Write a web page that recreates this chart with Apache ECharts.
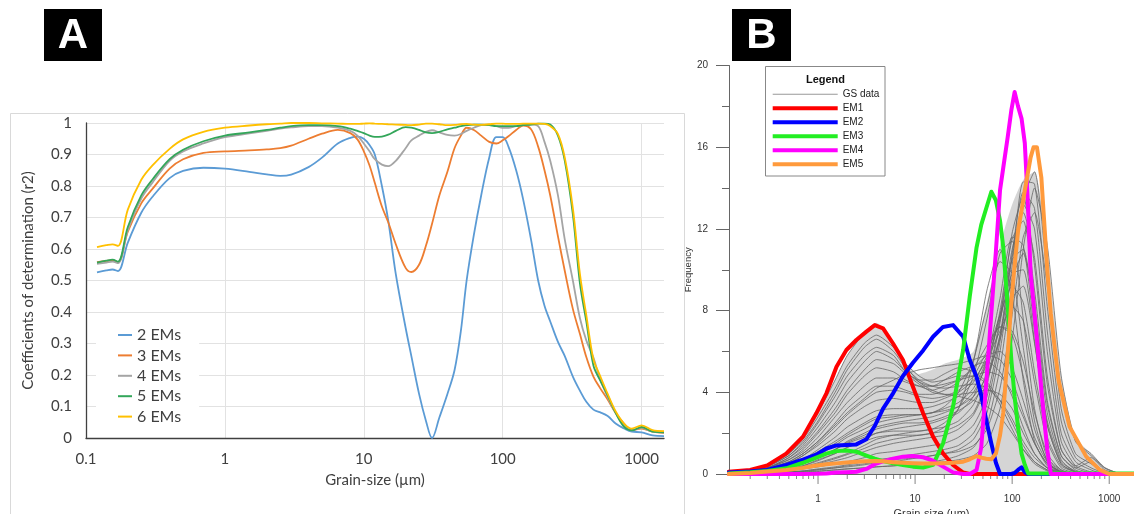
<!DOCTYPE html>
<html>
<head>
<meta charset="utf-8">
<title>EMMA</title>
<script src="https://cdn.jsdelivr.net/npm/echarts@6/dist/echarts.min.js"></script>
<style>
html, body { margin: 0; padding: 0; background: #fff; }
#main { width: 1134px; height: 514px; }
</style>
</head>
<body>
<div id="main"></div>
<script>
// ===== A: r2 vs grain size =====
let sizeA = [0.12, 0.14, 0.155, 0.17, 0.2, 0.25, 0.3, 0.4, 0.5, 0.7,
    1, 1.5, 2, 2.5, 3, 4, 5, 6.5, 8, 9,
    10, 11, 12, 13.5, 15, 17, 20, 22, 25, 28,
    31, 35, 40, 45, 50, 55, 62, 70, 80, 90,
    100, 110, 125, 140, 160, 180, 200, 220, 250, 280,
    320, 360, 400, 450, 500, 570, 650, 750, 850, 1000,
    1200, 1450]
let r2_2 = [0.526, 0.532, 0.535, 0.53, 0.62, 0.715, 0.765, 0.825, 0.848, 0.858,
    0.855, 0.845, 0.837, 0.832, 0.836, 0.86, 0.89, 0.935, 0.953, 0.957,
    0.95, 0.93, 0.9, 0.8, 0.69, 0.52, 0.35, 0.26, 0.14, 0.055,
    0.0, 0.065, 0.14, 0.215, 0.34, 0.5, 0.645, 0.77, 0.89, 0.955,
    0.955, 0.925, 0.85, 0.76, 0.63, 0.5, 0.42, 0.37, 0.305, 0.26,
    0.195, 0.15, 0.115, 0.09, 0.082, 0.07, 0.046, 0.03, 0.02, 0.018,
    0.008, 0.006]
let r2_3 = [0.558, 0.562, 0.564, 0.558, 0.655, 0.745, 0.79, 0.855, 0.885, 0.905,
    0.91, 0.913, 0.916, 0.92, 0.928, 0.95, 0.966, 0.978, 0.968, 0.948,
    0.91, 0.865, 0.81, 0.735, 0.685, 0.615, 0.54, 0.527, 0.55, 0.61,
    0.68, 0.77, 0.845, 0.92, 0.96, 0.985, 0.978, 0.96, 0.94, 0.935,
    0.945, 0.958, 0.978, 0.992, 0.98, 0.925, 0.85, 0.77, 0.64, 0.53,
    0.41, 0.33, 0.257, 0.195, 0.16, 0.122, 0.08, 0.045, 0.025, 0.03,
    0.02, 0.016]
let r2_4 = [0.553, 0.557, 0.56, 0.555, 0.66, 0.76, 0.81, 0.88, 0.91, 0.935,
    0.955, 0.967, 0.975, 0.982, 0.986, 0.99, 0.99, 0.985, 0.975, 0.96,
    0.935, 0.91, 0.885, 0.868, 0.863, 0.88, 0.92, 0.945, 0.96, 0.972,
    0.977, 0.97, 0.962, 0.96, 0.965, 0.975, 0.985, 0.993, 0.995, 0.99,
    0.985, 0.985, 0.99, 0.993, 0.995, 0.99, 0.94, 0.88, 0.77, 0.63,
    0.5, 0.38, 0.31, 0.255, 0.19, 0.13, 0.08, 0.04, 0.024, 0.032,
    0.02, 0.018]
let r2_5 = [0.557, 0.563, 0.566, 0.56, 0.67, 0.77, 0.82, 0.885, 0.915, 0.942,
    0.96, 0.97, 0.978, 0.985, 0.99, 0.993, 0.993, 0.99, 0.982, 0.975,
    0.968, 0.96, 0.956, 0.957, 0.963, 0.975, 0.987, 0.985, 0.978, 0.97,
    0.968, 0.972, 0.98, 0.985, 0.99, 0.993, 0.995, 0.995, 0.993, 0.99,
    0.99, 0.99, 0.99, 0.993, 0.995, 0.998, 0.998, 0.995, 0.96, 0.88,
    0.71, 0.49, 0.37, 0.23, 0.185, 0.135, 0.08, 0.035, 0.024, 0.035,
    0.02, 0.018]
let r2_6 = [0.606, 0.612, 0.615, 0.61, 0.725, 0.82, 0.865, 0.918, 0.948, 0.972,
    0.985, 0.992, 0.996, 0.998, 1.0, 1.0, 0.999, 0.998, 0.997, 0.997,
    0.998, 0.999, 0.998, 0.997, 0.996, 0.995, 0.994, 0.993, 0.995, 0.998,
    0.998, 0.996, 0.993, 0.994, 0.996, 0.997, 0.995, 0.994, 0.996, 0.998,
    0.998, 0.997, 0.997, 0.998, 0.998, 0.998, 0.997, 0.99, 0.965, 0.89,
    0.73, 0.52, 0.39, 0.25, 0.2, 0.14, 0.085, 0.045, 0.03, 0.04,
    0.025, 0.022]
let namesA = ['2 EMs', '3 EMs', '4 EMs', '5 EMs', '6 EMs']
let colorsA = ['#5B9BD5', '#ED7D31', '#A5A5A5', '#33A65A', '#FFC000']

// ===== B: GS data + end members =====
let sizeGS = [0.12, 0.2, 0.3, 0.5, 0.7, 1, 1.5, 2, 3, 4, 6, 8, 11, 15, 20, 28, 40, 55, 75, 100, 130, 170, 230, 320, 450, 650, 900, 1300]
// 样品曲线的上包络
let gsUpper = [0.1, 0.2, 0.4, 1.0, 1.8, 3.0, 4.6, 5.8, 6.9, 7.4, 6.4, 5.4, 4.9, 5.1, 5.4, 5.6, 6.0, 8.4, 11.2, 13.2, 14.4, 14.8, 11.0, 4.8, 1.8, 1.0, 0.35, 0]
let gsCurves = [
    [0.1,0.2,0.4,1.0,1.8,3.0,4.6,5.8,6.9,7.3,6.4,5.3,4.5,4.1,3.9,3.8,3.6,3.3,2.8,2.0,1.2,0.6,0.2,0.05,0,0,0,0],
    [0.1,0.2,0.4,0.9,1.6,2.6,4.0,5.1,6.2,6.6,6.0,5.2,4.6,4.3,4.2,4.3,4.4,4.2,3.6,2.7,1.6,0.8,0.3,0.1,0,0,0,0],
    [0.1,0.2,0.3,0.8,1.4,2.3,3.5,4.5,5.5,6.0,5.6,5.0,4.5,4.3,4.4,4.6,4.8,5.0,4.8,4.0,2.8,1.5,0.5,0.1,0,0,0,0],
    [0.1,0.15,0.3,0.7,1.2,2.0,3.0,3.9,4.8,5.2,5.0,4.6,4.3,4.1,4.3,4.6,5.2,5.8,6.0,5.2,3.6,1.8,0.6,0.1,0,0,0,0],
    [0.1,0.15,0.25,0.6,1.0,1.6,2.5,3.2,3.9,4.3,4.3,4.1,3.9,3.9,4.1,4.5,5.2,6.3,7.2,7.0,5.5,3.0,1.0,0.2,0,0,0,0],
    [0.05,0.1,0.2,0.5,0.9,1.4,2.1,2.7,3.3,3.6,3.7,3.6,3.5,3.5,3.7,4.0,4.6,5.6,7.0,8.2,7.5,4.5,1.6,0.3,0.05,0,0,0],
    [0.05,0.1,0.2,0.4,0.7,1.2,1.8,2.3,2.8,3.1,3.2,3.2,3.2,3.3,3.5,3.8,4.5,5.8,7.8,9.2,8.4,5.0,1.8,0.4,0.1,0,0,0],
    [0.05,0.1,0.15,0.4,0.6,1.0,1.5,1.9,2.4,2.7,2.8,2.9,2.9,3.0,3.2,3.5,4.2,5.6,7.6,9.8,10.0,6.5,2.4,0.5,0.1,0,0,0],
    [0.05,0.1,0.15,0.3,0.5,0.8,1.2,1.6,2.0,2.3,2.5,2.6,2.7,2.8,3.0,3.3,4.0,5.4,7.8,10.5,11.0,7.8,3.0,0.7,0.1,0,0,0],
    [0.05,0.08,0.1,0.25,0.4,0.7,1.0,1.3,1.7,2.0,2.2,2.3,2.4,2.5,2.7,3.0,3.8,5.6,8.6,11.6,11.2,7.0,2.4,0.5,0.1,0,0,0],
    [0.03,0.05,0.1,0.2,0.35,0.55,0.8,1.0,1.4,1.7,1.9,2.0,2.1,2.2,2.3,2.6,3.4,5.0,8.0,11.5,12.4,9.0,3.6,0.9,0.2,0,0,0],
    [0.03,0.05,0.1,0.2,0.3,0.45,0.65,0.8,1.1,1.3,1.5,1.6,1.7,1.8,1.9,2.2,2.9,4.4,7.4,11.0,12.8,10.6,4.8,1.2,0.3,0.05,0,0],
    [0.02,0.04,0.08,0.15,0.25,0.35,0.5,0.6,0.8,1.0,1.1,1.2,1.3,1.4,1.5,1.8,2.4,3.8,6.8,10.6,13.2,12.0,6.0,1.6,0.4,0.1,0,0],
    [0.02,0.03,0.05,0.1,0.15,0.25,0.35,0.45,0.6,0.7,0.8,0.9,1.0,1.1,1.2,1.4,2.0,3.4,6.5,10.8,13.8,13.0,7.0,2.0,0.6,0.2,0,0],
    [0.01,0.02,0.04,0.08,0.12,0.2,0.3,0.35,0.45,0.55,0.6,0.7,0.8,0.9,1.0,1.2,1.7,3.0,6.0,10.2,14.3,14.2,8.2,2.6,0.8,0.3,0.05,0],
    [0.01,0.02,0.03,0.05,0.08,0.12,0.2,0.25,0.3,0.35,0.4,0.45,0.5,0.6,0.7,0.9,1.3,2.4,5.2,9.4,13.5,14.8,9.6,3.2,1.0,0.5,0.1,0],
    [0.1,0.15,0.3,0.6,1.0,1.6,2.4,3.0,3.7,4.2,4.6,4.9,5.1,5.2,5.3,5.4,5.6,5.8,5.6,4.6,3.0,1.5,0.5,0.1,0,0,0,0],
    [0.05,0.1,0.2,0.4,0.7,1.1,1.6,2.0,2.5,2.8,2.9,2.9,2.9,3.0,3.3,4.0,5.6,8.2,10.4,9.8,6.2,2.6,0.6,0.1,0,0,0,0],
    [0.05,0.08,0.15,0.3,0.5,0.8,1.2,1.5,1.8,2.0,2.1,2.1,2.1,2.2,2.5,3.2,4.8,7.6,10.8,11.4,7.6,3.2,0.8,0.2,0,0,0,0],
    [0.02,0.03,0.05,0.1,0.15,0.22,0.3,0.4,0.5,0.6,0.7,0.75,0.8,0.9,1.0,1.1,1.4,2.2,4.2,7.8,11.6,12.8,9.2,4.2,1.6,0.9,0.3,0],
    [0.1,0.2,0.4,1.0,1.7,2.8,4.2,5.3,6.4,6.8,6.2,5.4,4.8,4.5,4.6,4.8,4.8,4.4,3.4,2.2,1.2,0.5,0.15,0,0,0,0,0],
    [0.08,0.15,0.3,0.7,1.1,1.8,2.8,3.5,4.3,4.7,4.7,4.5,4.3,4.3,4.6,5.0,5.3,5.5,5.0,3.8,2.3,1.0,0.3,0.05,0,0,0,0],
    [0.08,0.15,0.3,0.8,1.3,2.1,3.2,4.1,5.1,5.6,5.4,4.9,4.4,4.0,3.9,3.9,4.0,4.1,3.9,3.2,2.0,1.0,0.3,0.05,0,0,0,0],
    [0.04,0.08,0.15,0.35,0.55,0.9,1.4,1.8,2.2,2.5,2.7,2.8,2.9,3.0,3.1,3.3,3.8,4.8,6.6,8.6,9.2,6.4,2.6,0.6,0.15,0,0,0],
    [0.02,0.04,0.08,0.18,0.3,0.5,0.75,0.95,1.25,1.5,1.7,1.8,1.9,2.0,2.1,2.4,3.0,4.6,7.6,11.8,13.6,10.2,4.4,1.2,0.4,0.8,0.2,0],
    [0.06,0.12,0.25,0.55,0.9,1.5,2.3,2.9,3.6,4.0,4.1,4.0,3.8,3.7,3.8,4.1,4.8,6.0,7.2,6.8,4.8,2.2,0.7,0.15,0,0,0,0],
    [0.03,0.05,0.1,0.25,0.4,0.65,1.0,1.3,1.6,1.8,1.9,1.9,1.9,2.0,2.3,3.2,5.5,9.0,11.0,8.8,4.6,1.6,0.4,0.1,0,0,0,0],
    [0.01,0.02,0.03,0.06,0.1,0.15,0.2,0.25,0.3,0.35,0.4,0.45,0.5,0.55,0.6,0.7,0.9,1.5,3.2,6.6,11.0,14.0,11.2,4.8,1.6,1.0,0.3,0],
    [0.1,0.18,0.35,0.9,1.5,2.5,3.8,4.8,5.8,6.2,5.8,5.0,4.6,4.6,4.9,5.2,5.0,4.5,3.6,2.5,1.4,0.6,0.2,0,0,0,0,0],
    [0.04,0.07,0.12,0.3,0.5,0.8,1.2,1.55,1.9,2.2,2.4,2.5,2.5,2.6,2.8,3.1,3.6,4.6,6.8,9.6,10.8,8.2,3.4,0.9,0.3,0.6,0.1,0]
]
let sizeEM = [0.12, 0.2, 0.3, 0.47, 0.7, 0.96, 1.22, 1.55, 1.96, 2.48,
    3.15, 3.84, 4.68, 5.93, 7.5, 9.5, 12.1, 15.3, 19.4, 24.6,
    31.3, 36.6, 43, 48, 54, 61, 68, 75, 81, 90,
    98, 106, 115, 125, 135, 146, 155, 166, 180, 200,
    230, 250, 300, 390, 580, 800, 1000, 1800]
let em1 = [0.11, 0.2, 0.42, 1.0, 1.83, 2.97, 3.95, 5.25, 6.07, 6.56,
    6.97, 7.29, 7.13, 6.39, 5.58, 4.27, 2.97, 1.83, 1.01, 0.44,
    0.07, 0, 0, 0, 0, 0, 0, 0, 0, 0,
    0, 0, 0, 0, 0, 0, 0, 0, 0, 0,
    0, 0, 0, 0, 0, 0, 0, 0]
let em2 = [0.07, 0.12, 0.2, 0.44, 0.7, 0.95, 1.25, 1.4, 1.42, 1.45,
    1.7, 2.35, 3.2, 3.95, 4.8, 5.45, 6.05, 6.72, 7.2, 7.29,
    6.72, 5.58, 4.75, 3.85, 2.65, 1.5, 0.55, 0, 0, 0,
    0, 0.05, 0.2, 0.33, 0.1, 0, 0, 0, 0, 0,
    0, 0, 0, 0, 0, 0, 0, 0]
let em3 = [0.03, 0.08, 0.15, 0.28, 0.55, 0.8, 1.0, 1.12, 1.15, 1.09,
    0.9, 0.75, 0.63, 0.52, 0.44, 0.36, 0.32, 0.45, 1.5, 3.3,
    6.1, 8.7, 11.1, 12.2, 13.0, 13.82, 13.4, 12.4, 11.1, 8.2,
    5.6, 3.78, 2.3, 1.0, 0.45, 0.03, 0.03, 0.03, 0.03, 0.03,
    0.03, 0.03, 0.03, 0.02, 0.02, 0.02, 0.02, 0.02]
let em4 = [0, 0, 0, 0, 0, 0.01, 0.03, 0.07, 0.09, 0.11,
    0.25, 0.48, 0.62, 0.75, 0.85, 0.88, 0.82, 0.65, 0.36, 0.08,
    0, 0, 0.2, 1.3, 4.4, 7.86, 10.9, 13.9, 15.0, 16.5,
    17.8, 18.7, 18.0, 17.4, 16.2, 13.0, 9.8, 8.4, 6.6, 4.1,
    1.2, 0, 0, 0, 0, 0, 0, 0]
let em5 = [0, 0.05, 0.12, 0.2, 0.3, 0.42, 0.48, 0.52, 0.56, 0.6,
    0.63, 0.64, 0.62, 0.58, 0.55, 0.53, 0.52, 0.52, 0.53, 0.55,
    0.6, 0.72, 0.88, 0.8, 0.75, 0.72, 1.0, 1.9, 3.0, 5.9,
    8.4, 10.2, 11.9, 12.9, 13.9, 14.8, 15.5, 16.0, 16.0, 14.5,
    10.0, 7.86, 4.6, 2.32, 0.85, 0.2, 0, 0]
let namesEM = ['EM1', 'EM2', 'EM3', 'EM4', 'EM5']
let colorsEM = ['#ff0000', '#0000ff', '#22ee22', '#ff00ff', '#ff9a3c']
// 对数轴刻度 (主/次)
let majorTicksB = [1, 10, 100, 1000]
let minorTicksB = [0.2, 0.3, 0.4, 0.5, 0.6, 0.7, 0.8, 0.9,
    2, 3, 4, 5, 6, 7, 8, 9,
    20, 30, 40, 50, 60, 70, 80, 90,
    200, 300, 400, 500, 600, 700, 800, 900]

function pairs (xs, ys) {
    return xs.map(function (x, i) { return [x, ys[i]] })
}
function decadeLabel (v) {
    let l = Math.log10(v)
    if (Math.abs(l - Math.round(l)) < 1e-6) {
        return String(+Math.pow(10, Math.round(l)).toPrecision(6))
    }
    return ''
}

let chart = echarts.init(document.getElementById('main'))
let series = []

// A 曲线
let yA = [r2_2, r2_3, r2_4, r2_5, r2_6]
for (let i = 0; i < yA.length; i++) {
    series.push({
        name: namesA[i],
        type: 'line',
        xAxisIndex: 0,
        yAxisIndex: 0,
        data: pairs(sizeA, yA[i]),
        smooth: 0.35,
        symbol: 'none',
        color: colorsA[i],
        lineStyle: { color: colorsA[i], width: 1.8 },
        z: 3
    })
}

// B 灰色底 (包络)
series.push({
    name: 'GS envelope',
    type: 'line',
    xAxisIndex: 1,
    yAxisIndex: 1,
    data: pairs(sizeGS, gsUpper),
    smooth: 0.2,
    symbol: 'none',
    silent: true,
    lineStyle: { width: 0 },
    areaStyle: { color: 'rgba(135,135,135,0.5)' },
    z: 1
})

// B 灰色样品曲线
for (let i = 0; i < gsCurves.length; i++) {
    series.push({
        name: 'GS data',
        type: 'line',
        xAxisIndex: 1,
        yAxisIndex: 1,
        data: pairs(sizeGS, gsCurves[i]),
        smooth: 0.2,
        symbol: 'none',
        silent: true,
        color: '#999999',
        lineStyle: { color: '#666666', width: 1, opacity: 0.8 },
        z: 2
    })
}

// B 端元
let yEM = [em1, em2, em3, em4, em5]
for (let i = 0; i < yEM.length; i++) {
    series.push({
        name: namesEM[i],
        type: 'line',
        xAxisIndex: 1,
        yAxisIndex: 1,
        data: pairs(sizeEM, yEM[i]),
        symbol: 'none',
        clip: false,
        color: colorsEM[i],
        lineStyle: { color: colorsEM[i], width: 4, join: 'round', cap: 'round' },
        z: 4 + i
    })
}

// B x轴刻度
series.push({
    name: 'majorTick', type: 'scatter', xAxisIndex: 1, yAxisIndex: 1,
    data: majorTicksB.map(function (v) { return [v, 0] }),
    symbol: 'rect', symbolSize: [1, 10], symbolOffset: [0, 5],
    itemStyle: { color: '#666' }, clip: false, silent: true, z: 1
})
series.push({
    name: 'minorTick', type: 'scatter', xAxisIndex: 1, yAxisIndex: 1,
    data: minorTicksB.map(function (v) { return [v, 0] }),
    symbol: 'rect', symbolSize: [1, 5], symbolOffset: [0, 2.5],
    itemStyle: { color: '#666' }, clip: false, silent: true, z: 1
})

let fontA = 'Lato'
let fontB = 'Liberation Sans'
let option = {
    animation: false,
    backgroundColor: '#fff',
    grid: [
        { left: 86, top: 123, width: 578, height: 315, outerBoundsMode: 'none' },
        { left: 729, top: 65.5, width: 405, height: 408.5, outerBoundsMode: 'none' }
    ],
    xAxis: [
        {
            type: 'log', gridIndex: 0, logBase: 10, min: 0.1, max: 1450,
            name: 'Grain-size (µm)', nameLocation: 'middle', nameGap: 35,
            nameTextStyle: { fontFamily: fontA, fontSize: 15, color: '#404040' },
            axisLine: { show: true, lineStyle: { color: '#404040', width: 1.3 } },
            axisTick: { show: false },
            axisLabel: { fontFamily: fontA, fontSize: 15, color: '#404040', margin: 14, formatter: decadeLabel },
            splitLine: { show: true, showMaxLine: false, lineStyle: { color: '#e2e2e2', width: 1 } }
        },
        {
            type: 'log', gridIndex: 1, logBase: 10, min: 0.121, max: 1800,
            name: 'Grain-size (µm)', nameLocation: 'middle', nameGap: 31,
            nameTextStyle: { fontFamily: fontB, fontSize: 11, color: '#333' },
            axisLine: { show: true, lineStyle: { color: '#666', width: 1 } },
            axisTick: { show: false },
            axisLabel: { fontFamily: fontB, fontSize: 10, color: '#333', margin: 20, formatter: decadeLabel },
            splitLine: { show: false }
        }
    ],
    yAxis: [
        {
            type: 'value', gridIndex: 0, min: 0, max: 1, interval: 0.1,
            name: 'Coefficients of determination (r2)', nameLocation: 'middle', nameRotate: 90, nameGap: 50,
            nameTextStyle: { fontFamily: fontA, fontSize: 15, color: '#404040' },
            axisLine: { show: true, lineStyle: { color: '#404040', width: 1.3 } },
            axisTick: { show: false },
            axisLabel: { fontFamily: fontA, fontSize: 15, color: '#404040', margin: 14,
                formatter: function (v) { return String(+v.toFixed(1)) } },
            splitLine: { show: true, lineStyle: { color: '#e2e2e2', width: 1 } }
        },
        {
            type: 'value', gridIndex: 1, min: 0, max: 20, interval: 4,
            name: 'Frequency', nameLocation: 'middle', nameRotate: 90, nameGap: 34,
            nameTextStyle: { fontFamily: fontB, fontSize: 9.5, color: '#333' },
            axisLine: { show: true, lineStyle: { color: '#666', width: 1 } },
            axisTick: { show: true, length: 13, lineStyle: { color: '#666' } },
            minorTick: { show: true, splitNumber: 2, length: 7, lineStyle: { color: '#666' } },
            axisLabel: { fontFamily: fontB, fontSize: 10, color: '#333', margin: 21 },
            splitLine: { show: false }
        }
    ],
    legend: [
        {
            data: namesA,
            left: 96, top: 320, orient: 'vertical',
            itemWidth: 14, itemHeight: 2, itemGap: 2.4, icon: 'rect',
            itemStyle: { borderWidth: 0 },
            backgroundColor: '#fff',
            padding: [6, 18, 4, 22],
            selectedMode: false,
            textStyle: { fontFamily: fontA, fontSize: 16, color: '#404040', lineHeight: 18 }
        },
        {
            data: [{ name: 'GS data', icon: 'path://M0,0H65V1H0Z', itemStyle: { color: '#999' } }]
                .concat(namesEM.map(function (n) { return { name: n, icon: 'rect' } })),
            left: 772.7, top: 88.3, orient: 'vertical',
            itemWidth: 65, itemHeight: 4, itemGap: 2,
            itemStyle: { borderWidth: 0 },
            padding: 0,
            selectedMode: false,
            textStyle: { fontFamily: fontB, fontSize: 10, color: '#222', lineHeight: 12 }
        }
    ],
    graphic: [
        // A 外框
        { type: 'rect', z: 0, shape: { x: 10.5, y: 113.5, width: 674, height: 405 },
          style: { fill: 'none', stroke: '#d9d9d9', lineWidth: 1 } },
        // 面板字母
        { type: 'rect', z: 10, shape: { x: 44, y: 9, width: 58, height: 52 }, style: { fill: '#000' } },
        { type: 'text', z: 11, style: { text: 'A', x: 73, y: 36, font: 'bold 42px "Liberation Sans"', fill: '#fff',
            align: 'center', verticalAlign: 'middle', textAlign: 'center', textVerticalAlign: 'middle' } },
        { type: 'rect', z: 10, shape: { x: 732, y: 9, width: 59, height: 52 }, style: { fill: '#000' } },
        { type: 'text', z: 11, style: { text: 'B', x: 761.5, y: 36, font: 'bold 42px "Liberation Sans"', fill: '#fff',
            align: 'center', verticalAlign: 'middle', textAlign: 'center', textVerticalAlign: 'middle' } },
        // B 图例框
        { type: 'rect', z: 1, shape: { x: 765.5, y: 66.5, width: 119.5, height: 109.5 },
          style: { fill: '#fff', stroke: '#888', lineWidth: 1 } },
        { type: 'text', z: 5, style: { text: 'Legend', x: 825.5, y: 80, font: 'bold 11px "Liberation Sans"', fill: '#111',
            align: 'center', verticalAlign: 'middle', textAlign: 'center', textVerticalAlign: 'middle' } }
    ],
    series: series
}
chart.setOption(option)
console.log('chart done')
</script>
</body>
</html>
